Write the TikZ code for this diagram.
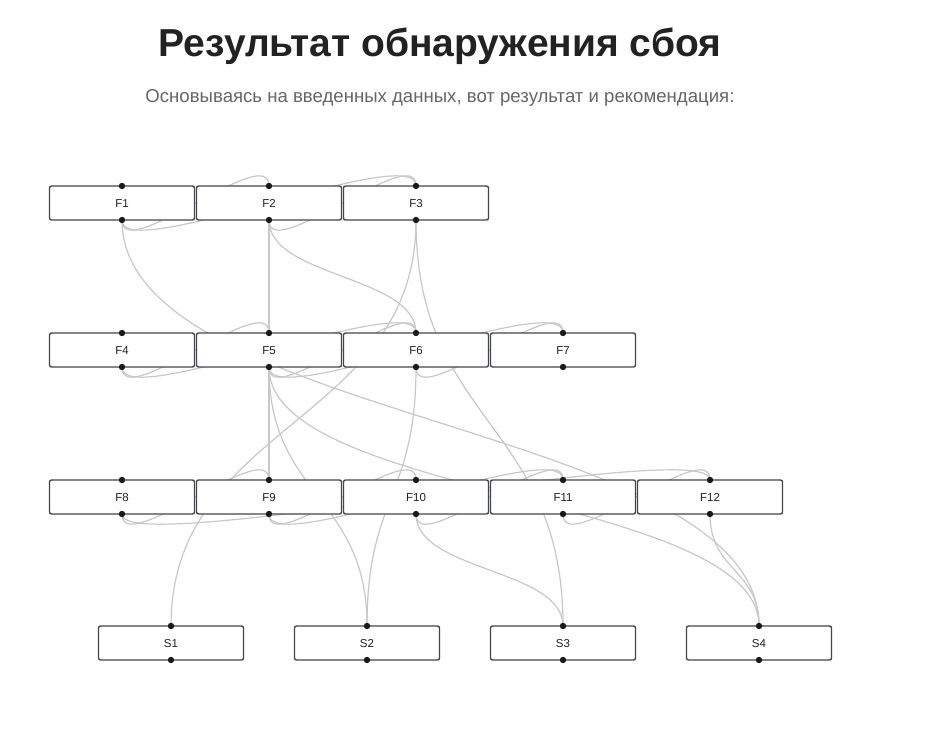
\documentclass[tikz,border=0pt]{standalone}
\usepackage{fontspec}
\setmainfont{Liberation Sans}
\usetikzlibrary{calc}
\definecolor{edgegray}{HTML}{C8C8C8}
\definecolor{boxline}{HTML}{45454D}
\definecolor{titlecol}{HTML}{222222}
\definecolor{subcol}{HTML}{666666}
\tikzset{
  box/.style={draw=boxline, line width=1.4pt, rounded corners=2pt, fill=white,
    minimum width=145pt, minimum height=34pt, inner sep=0pt,
    text height=8.2pt, text depth=0pt,
    font=\fontsize{11.5}{13}\selectfont, text=titlecol},
  ghost/.style={minimum width=145pt, minimum height=34pt, inner sep=0pt},
  edge/.style={draw=edgegray, line width=1.2pt},
  dot/.style={fill=black!90}
}
% bezier from bottom anchor of #1 to top anchor of #2, control offset #3
\newcommand\edge[3]{\draw[edge] (#1.south) .. controls +(0,#3) and +(0,-#3) .. (#2.north);}
\begin{document}
\begin{tikzpicture}[x=1pt,y=-1pt]
\fill[white] (0,0) rectangle (936,733);
\useasboundingbox (0,0) rectangle (936,733);
\node[font=\fontsize{39}{44}\selectfont\bfseries, text=titlecol] (title) at (440,46) {Результат обнаружения сбоя};
\node[font=\fontsize{18.6}{22}\selectfont, text=subcol] (sub) at (440,98) {Основываясь на введенных данных, вот результат и рекомендация:};
% node positions (centres)
\foreach \n/\x/\y in {F1/122/203,F2/269/203,F3/416/203,
  F4/122/350,F5/269/350,F6/416/350,F7/563/350,
  F8/122/497,F9/269/497,F10/416/497,F11/563/497,F12/710/497,
  S1/171/643,S2/367/643,S3/563/643,S4/759/643}
  \coordinate (\n) at (\x,\y);
\foreach \n in {F1,F2,F3,F4,F5,F6,F7,F8,F9,F10,F11,F12,S1,S2,S3,S4}
  \path (\n) node[ghost] (\n b) {};
% same-row links
\edge{F1b}{F2b}{45}
\edge{F1b}{F3b}{45}
\edge{F2b}{F3b}{45}
\edge{F4b}{F5b}{45}
\edge{F4b}{F6b}{45}
\edge{F5b}{F6b}{45}
\edge{F5b}{F7b}{45}
\edge{F6b}{F7b}{45}
\edge{F8b}{F9b}{45}
\edge{F8b}{F12b}{45}
\edge{F9b}{F10b}{45}
\edge{F9b}{F11b}{45}
\edge{F10b}{F11b}{45}
\edge{F11b}{F12b}{45}
% one row down
\edge{F2b}{F5b}{57}
\edge{F2b}{F6b}{57}
\edge{F5b}{F9b}{57}
\edge{F10b}{S3b}{57}
\edge{F12b}{S4b}{57}
% two rows down
\edge{F5b}{S2b}{130}
\edge{F6b}{S2b}{130}
\edge{F5b}{S4b}{130}
% three rows down
\edge{F1b}{S4b}{203}
\edge{F3b}{S1b}{203}
\edge{F3b}{S3b}{203}
% boxes on top
\foreach \n in {F1,F2,F3,F4,F5,F6,F7,F8,F9,F10,F11,F12,S1,S2,S3,S4}{
  \node[box] at (\n) {\n};
  \fill[dot] ($(\n)+(0,-17)$) circle (3.2pt);
  \fill[dot] ($(\n)+(0,17)$) circle (3.2pt);
}
\end{tikzpicture}
\end{document}
